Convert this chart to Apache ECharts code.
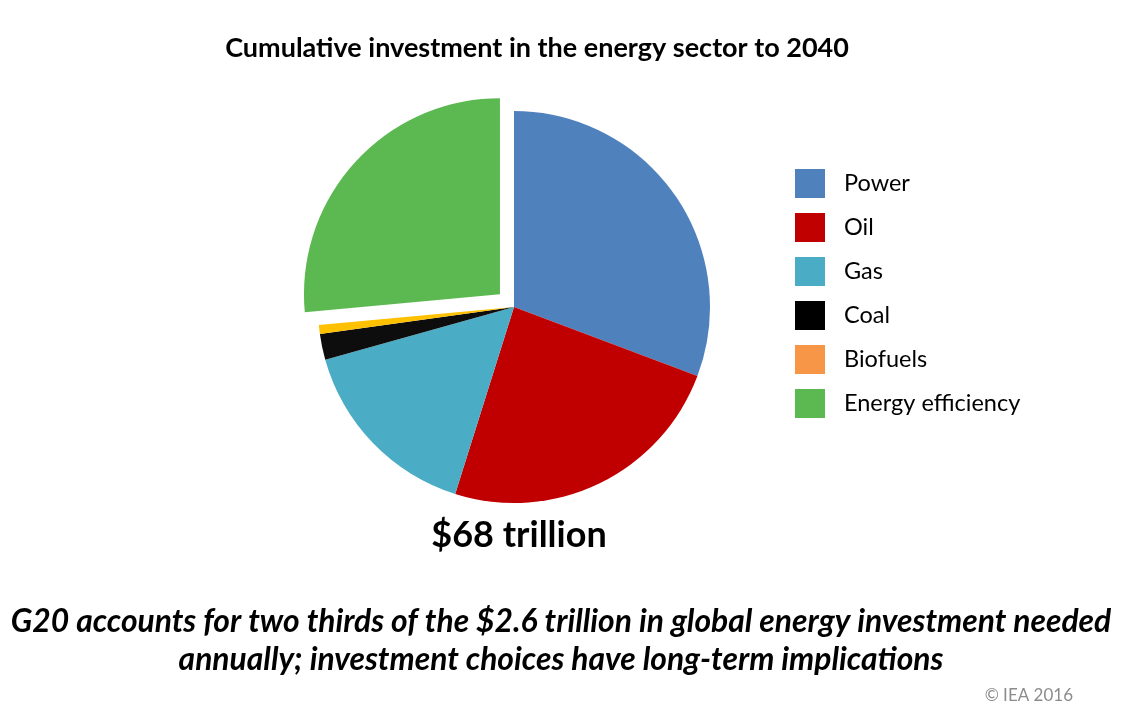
<!DOCTYPE html>
<html>
<head>
<meta charset="utf-8">
<script src="https://cdn.jsdelivr.net/npm/echarts@6/dist/echarts.min.js"></script>
<style>
html,body{margin:0;padding:0;background:#fff;}
#c{width:1124px;height:707px;}
</style>
</head>
<body>
<div id="c"></div>
<script>
var categories = ['Power', 'Oil', 'Gas', 'Coal', 'Biofuels', 'Energy efficiency'];
var values = [20.9, 16.4, 10.75, 1.45, 0.5, 18.0]; // USD trillion, cumulative to 2040
var sliceColors = ['#4F81BD', '#C00000', '#4BACC6', '#0D0D0D', '#FFC000', '#5CB951'];
var legendColors = ['#4F81BD', '#C00000', '#4BACC6', '#000000', '#F79646', '#5CB951'];
var explodedCategory = 'Energy efficiency';

var FONT = 'Lato, "Open Sans", sans-serif';
var chart = echarts.init(document.getElementById('c'));

var data = categories.map(function (name, i) {
  return {
    name: name,
    value: values[i],
    selected: name === explodedCategory,
    itemStyle: { color: sliceColors[i] }
  };
});

chart.setOption({
  animation: false,
  backgroundColor: '#ffffff',
  title: [
    { text: 'Cumulative investment in the energy sector to 2040', left: 532, top: 30, textAlign: 'center',
      textStyle: { fontFamily: FONT, fontSize: 27, fontWeight: 'bold', color: '#000' } },
    { text: '$68 trillion', left: 514, top: 512, textAlign: 'center',
      textStyle: { fontFamily: FONT, fontSize: 36, fontWeight: 'bold', color: '#000' } },
    { text: 'G20 accounts for two thirds of the $2.6 trillion in global energy investment needed\nannually; investment choices have long-term implications',
      left: 556, top: 598, textAlign: 'center',
      textStyle: { fontFamily: FONT, fontSize: 31.8, fontWeight: 'bold', fontStyle: 'italic', color: '#000', lineHeight: 38 } },
    { text: '© IEA 2016', left: 1068, top: 682, textAlign: 'right',
      textStyle: { fontFamily: FONT, fontSize: 17, fontWeight: 'normal', color: '#8c8c8c' } }
  ],
  legend: {
    orient: 'vertical',
    left: 790,
    top: 164,
    itemWidth: 30,
    itemHeight: 29,
    itemGap: 15,
    selectedMode: false,
    icon: 'rect',
    textStyle: { fontFamily: FONT, fontSize: 23.5, color: '#000', padding: [0, 0, 0, 14] },
    data: categories.map(function (name, i) {
      return { name: name, itemStyle: { color: legendColors[i] } };
    })
  },
  series: [{
    type: 'pie',
    center: [514, 307],
    radius: 196,
    startAngle: 90,
    clockwise: true,
    selectedMode: 'multiple',
    selectedOffset: 19,
    label: { show: false },
    labelLine: { show: false },
    emphasis: { disabled: true },
    itemStyle: { borderWidth: 0 },
    data: data
  }]
});
</script>
</body>
</html>
